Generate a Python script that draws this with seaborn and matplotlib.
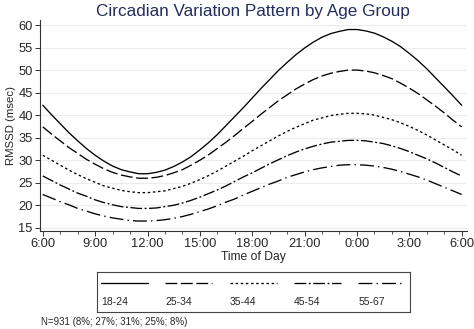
import numpy as np
import pandas as pd
import matplotlib
matplotlib.use("Agg")
import matplotlib.pyplot as plt
from matplotlib.lines import Line2D
from matplotlib.ticker import MultipleLocator
import seaborn as sns

# Half-hourly readings from 6:00 through 6:00 next morning (24 = midnight)
hours = np.arange(6, 30.5, 0.5)

rmssd_18_24 = [42.2, 40.1, 38.1, 36.1, 34.3, 32.6, 31.1, 29.8, 28.7, 27.9, 27.4, 27.0,
               27.0, 27.3, 27.8, 28.6, 29.6, 30.8, 32.3, 33.9, 35.7, 37.7, 39.7, 41.7,
               43.8, 45.9, 47.9, 49.9, 51.7, 53.4, 54.9, 56.2, 57.3, 58.1, 58.6, 59.0,
               59.0, 58.7, 58.2, 57.4, 56.4, 55.2, 53.7, 52.1, 50.3, 48.3, 46.3, 44.3, 42.2]
rmssd_25_34 = [37.4, 35.8, 34.3, 32.8, 31.5, 30.2, 29.1, 28.1, 27.3, 26.7, 26.3, 26.0,
               26.0, 26.2, 26.6, 27.2, 27.9, 28.9, 30.0, 31.2, 32.6, 34.0, 35.5, 37.1,
               38.6, 40.2, 41.7, 43.2, 44.5, 45.8, 46.9, 47.9, 48.7, 49.3, 49.7, 50.0,
               50.0, 49.8, 49.4, 48.8, 48.1, 47.1, 46.0, 44.8, 43.4, 42.0, 40.5, 38.9, 37.4]
rmssd_35_44 = [31.1, 30.0, 28.9, 27.8, 26.8, 25.9, 25.1, 24.3, 23.8, 23.3, 23.0, 22.8,
               22.8, 23.0, 23.2, 23.7, 24.2, 24.9, 25.7, 26.6, 27.6, 28.7, 29.8, 30.9,
               32.1, 33.2, 34.3, 35.4, 36.4, 37.3, 38.1, 38.9, 39.4, 39.9, 40.2, 40.4,
               40.4, 40.3, 40.0, 39.5, 39.0, 38.3, 37.5, 36.6, 35.6, 34.5, 33.4, 32.3, 31.1]
rmssd_45_54 = [26.5, 25.5, 24.5, 23.6, 22.7, 22.0, 21.2, 20.6, 20.1, 19.7, 19.5, 19.3,
               19.3, 19.4, 19.7, 20.0, 20.5, 21.1, 21.8, 22.6, 23.4, 24.3, 25.3, 26.3,
               27.2, 28.2, 29.2, 30.1, 31.0, 31.8, 32.5, 33.1, 33.6, 34.0, 34.2, 34.4,
               34.4, 34.3, 34.0, 33.7, 33.2, 32.6, 31.9, 31.1, 30.3, 29.4, 28.4, 27.4, 26.5]
rmssd_55_67 = [22.4, 21.6, 20.8, 20.1, 19.3, 18.7, 18.1, 17.6, 17.2, 16.9, 16.6, 16.5,
               16.5, 16.6, 16.8, 17.1, 17.5, 18.0, 18.6, 19.2, 19.9, 20.7, 21.4, 22.3,
               23.1, 23.9, 24.7, 25.4, 26.2, 26.8, 27.4, 27.9, 28.3, 28.6, 28.9, 29.0,
               29.0, 28.9, 28.7, 28.4, 28.0, 27.5, 26.9, 26.3, 25.6, 24.8, 24.0, 23.2, 22.4]

groups = ["18-24", "25-34", "35-44", "45-54", "55-67"]
series = [rmssd_18_24, rmssd_25_34, rmssd_35_44, rmssd_45_54, rmssd_55_67]

x_ticks = [6, 9, 12, 15, 18, 21, 24, 27, 30]
x_tick_labels = ["6:00", "9:00", "12:00", "15:00", "18:00", "21:00", "0:00", "3:00", "6:00"]
y_ticks = [15, 20, 25, 30, 35, 40, 45, 50, 55, 60]

df = pd.concat(
    [pd.DataFrame({"hour": hours, "rmssd": vals, "group": g}) for g, vals in zip(groups, series)],
    ignore_index=True,
)

sns.set_style("white")
plt.rcParams["font.family"] = ["Liberation Sans", "DejaVu Sans"]
plt.rcParams["lines.scale_dashes"] = False

dash_styles = {
    "18-24": "",
    "25-34": (8.5, 2.6),
    "35-44": (1.8, 1.9),
    "45-54": (8.5, 1.8, 1.4, 1.8),
    "55-67": (10, 3, 1.0, 3),
}

fig = plt.figure(figsize=(4.74, 3.29), dpi=100)
ax = fig.add_axes([0.084, 0.298, 0.901, 0.641])

sns.lineplot(data=df, x="hour", y="rmssd", style="group", dashes=dash_styles,
             color="black", linewidth=0.95, legend=False, ax=ax)

ax.set_xlim(5.83, 30.3)
ax.set_ylim(14.3, 61.1)
ax.set_xticks(x_ticks)
ax.set_xticklabels(x_tick_labels)
ax.xaxis.set_minor_locator(MultipleLocator(1))
ax.set_yticks(y_ticks)
ax.yaxis.grid(True, color="#ececec", linewidth=0.8)
ax.set_axisbelow(True)

for side in ("top", "right"):
    ax.spines[side].set_visible(False)
for side in ("left", "bottom"):
    ax.spines[side].set_color("#333333")
    ax.spines[side].set_linewidth(0.8)

ax.tick_params(axis="both", which="major", direction="out", length=3.5, width=0.7,
               labelsize=9.3, color="#333333", pad=1.5, left=True, bottom=True)
ax.tick_params(axis="x", which="minor", direction="out", length=2.2, width=0.6,
               color="#333333", bottom=True)

ax.set_xlabel("Time of Day", fontsize=8.7, labelpad=1)
ax.set_ylabel("RMSSD (msec)", fontsize=8.2, labelpad=2)
ax.set_title("Circadian Variation Pattern by Age Group", fontsize=12.3,
             color="#232d5c", pad=3)

# Legend panel: line sample above each age-group label
leg = fig.add_axes([97 / 474, 1 - 312 / 329, 313 / 474, 40 / 329])
leg.set_xlim(0, 313)
leg.set_ylim(40, 0)
leg.set_xticks([])
leg.set_yticks([])
for s in leg.spines.values():
    s.set_color("#444444")
    s.set_linewidth(0.8)
for i, g in enumerate(groups):
    x0 = 4 + i * 64.3
    d = dash_styles[g]
    ln = Line2D([x0, x0 + 47], [11, 11], color="black", linewidth=0.95)
    if d:
        ln.set_dashes(d)
    leg.add_line(ln)
    leg.text(x0, 30, g, fontsize=7.5, va="center", ha="left")

fig.text(41 / 474, 1 - 322 / 329, "N=931 (8%; 27%; 31%; 25%; 8%)", fontsize=7,
         va="center", ha="left")

fig.savefig("out.png", dpi=100, facecolor="white")
